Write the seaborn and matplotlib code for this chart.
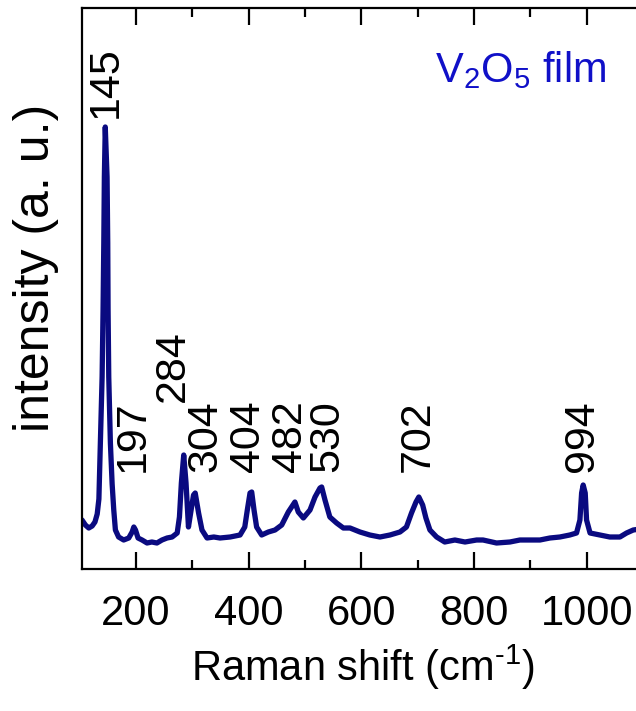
import numpy as np
import pandas as pd
import matplotlib
matplotlib.use("Agg")
import matplotlib.pyplot as plt
from matplotlib.ticker import MultipleLocator
import seaborn as sns

# Raman spectrum (wavenumber in cm^-1, intensity in arbitrary units)
shift = [104, 110, 116, 122, 127, 131, 134, 136.6, 139.7, 141.4, 142.7, 143.7, 145.3,
         148.5, 149.7, 150.3, 151.5, 154.4, 157.5, 160.4, 163.3, 169, 178, 187, 193,
         196, 199, 203.5, 210.6, 219.5, 228, 237, 246, 255, 264, 273, 277, 280.4,
         284.6, 288.7, 293, 298, 302, 305, 311, 317, 326, 338, 349, 367, 384.6, 393,
         397.5, 402.3, 405.3, 409.4, 414, 423, 434.8, 446.7, 458.6, 470.3, 482, 488,
         497, 508.8, 517.7, 526.5, 529.5, 535.4, 544, 556, 568, 579.8, 597.5, 615,
         633, 650.7, 668.5, 680, 689, 697, 702, 708.8, 714.6, 721.7, 733.6, 748, 766,
         784, 804.6, 816, 840, 863.7, 881.5, 899, 917, 934.7, 952.4, 970, 982, 988,
         991, 993.8, 997.4, 999.8, 1006, 1023.5, 1041, 1059, 1070.8, 1082.7, 1095]
intensity = [49, 44, 41, 43, 47, 55, 70, 126, 192, 259, 326, 392, 442,
             392, 326, 259, 192, 126, 85, 59, 39, 32, 29, 31, 37,
             42, 39, 31, 29, 26, 27, 26, 29, 31, 32, 36, 52, 86,
             114, 86, 42, 60, 74, 76, 56, 39, 31, 32, 31, 32, 34, 42,
             59, 76, 77, 59, 42, 34, 37, 39, 44, 57, 67, 57,
             51, 59, 72, 81, 82, 69, 52, 46, 41, 41, 37, 34,
             32, 34, 37, 42, 56, 67, 72, 64, 51, 39, 32, 27, 29,
             27, 29, 29, 26, 27, 29, 29, 29, 31, 32, 34, 36, 49,
             76, 84, 76, 49, 36, 34, 32, 32, 36, 39, 40]

peak_labels = ["145", "197", "284", "304", "404", "482", "530", "702", "994"]
label_x = [146.8, 193.8, 264.8, 322.4, 398.8, 473.3, 539.8, 699.6, 992.4]
label_y = [451, 97, 167, 97, 97, 97, 97, 97, 97]
x_ticks = [200, 400, 600, 800, 1000]

sns.set_style("ticks")
plt.rcParams['font.family'] = ['Liberation Sans', 'DejaVu Sans']
plt.rcParams['mathtext.fontset'] = 'custom'
plt.rcParams['mathtext.rm'] = 'Liberation Sans'
plt.rcParams['mathtext.it'] = 'Liberation Sans:italic'
plt.rcParams['mathtext.default'] = 'regular'
plt.rcParams['text.color'] = 'black'
plt.rcParams['axes.labelcolor'] = 'black'
plt.rcParams['xtick.color'] = 'black'
plt.rcParams['ytick.color'] = 'black'
plt.rcParams['axes.edgecolor'] = 'black'

fig = plt.figure(figsize=(6.36, 7.11), dpi=100)
ax = fig.add_axes([82 / 636, (711 - 569) / 711, (643 - 82) / 636, 561 / 711])

df = pd.DataFrame({"shift": shift, "intensity": intensity})
sns.lineplot(data=df, x="shift", y="intensity", ax=ax, color="#0a0a80", lw=3.8)

ax.set_xlim(104, 1100)
ax.set_ylim(0, 561)
ax.set_xticks(x_ticks)
ax.set_xticklabels([str(t) for t in x_ticks])
ax.xaxis.set_minor_locator(MultipleLocator(100))
ax.set_yticks([])
ax.tick_params(axis="x", which="both", direction="in", top=True, bottom=True,
               width=1.6, color="black", labelcolor="black", labelsize=30, pad=18)
ax.tick_params(axis="x", which="major", length=12)
ax.tick_params(axis="x", which="minor", length=6.5)
for s in ax.spines.values():
    s.set_linewidth(1.6)
    s.set_color("black")

ax.set_xlabel(r"Raman shift (cm$^{\text{-}1}$)", fontsize=30, labelpad=6, color="black")
ax.set_ylabel("intensity (a. u.)", fontsize=36, color="black")
ax.yaxis.set_label_coords(-0.041, 0.537)

for txt, lx, ly in zip(peak_labels, label_x, label_y):
    ax.text(lx, ly, txt, rotation=90, ha="center", va="bottom", fontsize=31, color="black")

ax.text(0.629, 0.868, "V$_2$O$_5$ film", transform=ax.transAxes, ha="left",
        va="baseline", fontsize=30, color="#1010c8")

fig.savefig("out.png", dpi=100)
